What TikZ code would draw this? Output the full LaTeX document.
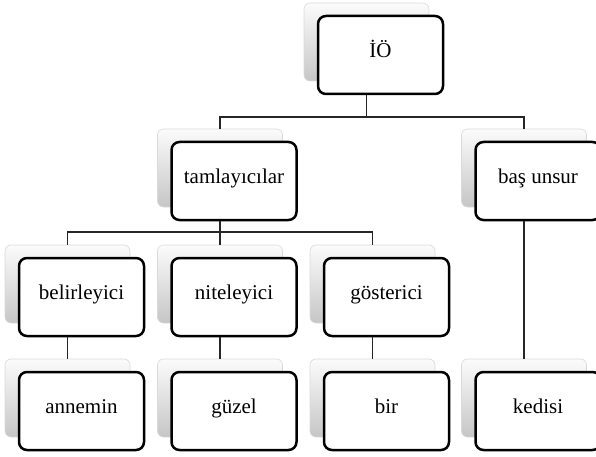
\documentclass[tikz,border=0pt]{standalone}
\usepackage{fontspec}
\setmainfont{Liberation Serif}
\tikzset{
  backbox/.style={draw=gray!30, line width=0.6pt, rounded corners=6pt,
    top color=gray!3, bottom color=gray!45, minimum width=125pt,
    minimum height=78pt, inner sep=0pt},
  frontbox/.style={draw=black, line width=2.5pt, rounded corners=8pt,
    fill=white, minimum width=125pt, minimum height=78pt,
    text height=1.6ex, text depth=0.45ex,
    font=\fontsize{21}{25}\selectfont},
  conn/.style={line width=1.1pt, draw=black!85}
}
\begin{document}
\begin{tikzpicture}[x=1pt,y=-1pt]
\useasboundingbox (0,0) rectangle (596,457);
% top
\node[backbox] (io-b) at (366.5,42) {};
\node[frontbox] (io) at ([shift={(14,13)}]io-b) {İÖ};
% second row
\node[backbox] (tam-b) at (220,168) {};
\node[frontbox] (tam) at ([shift={(14,13)}]tam-b) {tamlayıcılar};
\node[backbox] (bas-b) at (524,168) {};
\node[frontbox] (bas) at ([shift={(14,13)}]bas-b) {baş unsur};
% third row
\node[backbox] (bel-b) at (67.5,284) {};
\node[frontbox] (bel) at ([shift={(14,13)}]bel-b) {belirleyici};
\node[backbox] (nit-b) at (220,284) {};
\node[frontbox] (nit) at ([shift={(14,13)}]nit-b) {niteleyici};
\node[backbox] (gos-b) at (372.5,284) {};
\node[frontbox] (gos) at ([shift={(14,13)}]gos-b) {gösterici};
% bottom row
\node[backbox] (ann-b) at (67.5,398) {};
\node[frontbox] (ann) at ([shift={(14,13)}]ann-b) {annemin};
\node[backbox] (guz-b) at (220,398) {};
\node[frontbox] (guz) at ([shift={(14,13)}]guz-b) {güzel};
\node[backbox] (bir-b) at (372.5,398) {};
\node[frontbox] (bir) at ([shift={(14,13)}]bir-b) {bir};
\node[backbox] (ked-b) at (524,398) {};
\node[frontbox] (ked) at ([shift={(14,13)}]ked-b) {kedisi};
% connectors
\coordinate (bus1) at (0,117);
\coordinate (bus2) at (0,232);
\draw[conn] (io.south -| io-b) -- (io-b |- bus1);
\draw[conn] (tam-b.north) |- (bus1 -| bas-b) -- (bas-b.north);
\draw[conn] (tam.south -| tam-b) -- (nit-b.north);
\draw[conn] (bel-b.north) |- (bus2 -| gos-b) -- (gos-b.north);
\draw[conn] (bas.south -| bas-b) -- (ked-b.north);
\draw[conn] (bel.south -| bel-b) -- (ann-b.north);
\draw[conn] (nit.south -| nit-b) -- (guz-b.north);
\draw[conn] (gos.south -| gos-b) -- (bir-b.north);
\end{tikzpicture}
\end{document}
